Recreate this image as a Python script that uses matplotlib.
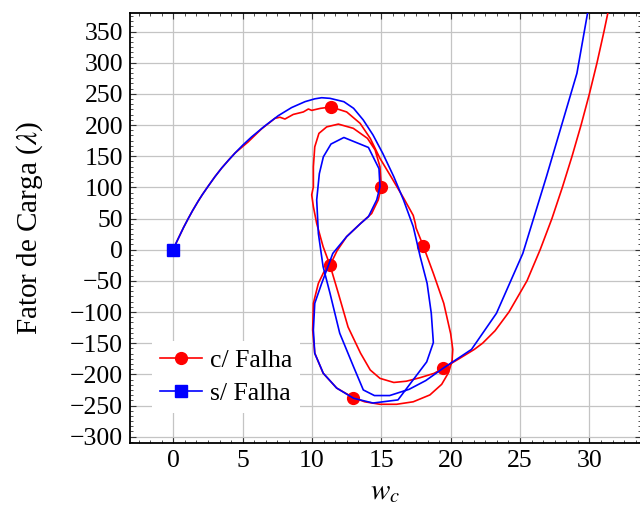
import matplotlib
matplotlib.use("Agg")
import matplotlib.pyplot as plt
from matplotlib.ticker import MultipleLocator

plt.rcParams["font.family"] = ["Liberation Serif", "DejaVu Serif"]
plt.rcParams["mathtext.fontset"] = "stix"

# Equilibrium path without failure (s/ Falha)
w_sem = [0, 0.2, 0.48, 0.75, 1.08, 1.4, 1.8, 2.1, 2.52, 3.0, 3.49, 4.0, 4.45, 5.0, 5.65,
         6.6, 7.57, 8.53, 9.5, 10.2,
         10.7, 11.3, 12.3, 13.0, 13.7, 14.4, 15.1, 15.9, 16.6, 17.3, 17.8, 18.3, 18.6,
         18.75, 18.27, 16.2, 14.4, 13.0, 11.78, 10.82, 10.2, 10.1, 10.2, 10.7, 11.06,
         11.5, 12.5, 13.5, 14.07, 14.67, 14.9, 14.83, 14.07, 12.3, 11.37, 10.82, 10.53,
         10.34, 10.46, 10.8, 11.3, 12.0, 13.0, 13.7, 14.5, 15.6, 17.0, 18.2, 19.47,
         21.5, 23.3, 25.2, 26.9, 29.1, 29.95]
lam_sem = [0, 10.5, 23.5, 36, 50, 63, 78, 88.5, 102, 117, 131, 144, 155, 167.5, 181,
           198.5, 215, 228, 237.5, 242,
           243.8, 242.8, 237.4, 226.8, 208, 184, 154.6, 117, 79.7, 37, -11, -54, -102,
           -149, -180, -241, -246, -238.4, -222, -198.4, -166.3, -128.8, -86, -54, -32.6,
           -6, 21, 42, 53, 80, 101, 130, 164, 180, 169.5, 149, 122,
           80, 26, -27, -70, -134, -188, -225, -234, -234, -224, -210, -190,
           -160, -102, -6, 117, 283, 390]

# Equilibrium path with failure (c/ Falha)
w_com = [0, 0.2, 0.48, 0.75, 1.08, 1.4, 1.8, 2.1, 2.52, 3.0, 3.49, 4.0, 4.45, 5.4,
         6.37, 7.33, 7.69, 8.05, 8.65, 9.38,
         9.74, 9.98, 10.6, 11.37, 12.5, 13.47, 14.2, 14.9, 15.7, 16.6, 17.3, 17.45, 17.5,
         18.03, 18.75, 19.5, 20.0, 20.15, 20.1, 19.85, 19.35, 18.5, 17.3, 16.1, 14.9, 13.8,
         12.98, 11.78, 10.8, 10.2, 10.05, 10.1, 10.46, 10.85, 11.3, 11.8, 12.5, 13.5,
         14.3, 14.78, 15.0, 14.9, 14.55, 14.0, 12.98, 11.9, 11.06, 10.5, 10.2, 10.1,
         10.1, 9.98, 10.1, 10.34, 10.8, 11.3, 11.9, 12.6, 13.5, 14.2, 14.9, 15.9, 16.8,
         17.8, 18.8, 19.47, 20.6, 21.7, 22.3, 23.2, 24.2, 25.5, 26.45, 27.3, 28.05,
         28.75, 29.4, 30.0, 30.55, 31.05, 31.38]
lam_com = [0, 10.5, 23.5, 36, 50, 63, 78, 88.5, 102, 117, 131, 144, 155, 173,
           194, 210.7, 212.5, 209.6, 217, 221,
           225.7, 223.5, 226.7, 229, 221, 202.7, 178.6, 146.6, 117, 83, 55, 42, 35,
           5.5, -38, -86, -135, -160, -178, -197, -216, -233, -244, -248, -248, -244,
           -237.4, -222, -198, -166, -129, -86, -54, -36, -25, -2, 21, 42,
           58, 80, 101, 133, 160, 178.6, 194.7, 201.5, 197, 186.6, 165, 133,
           101, 88, 69, 42, 5, -25, -70, -124, -166, -193, -206.4, -213, -211,
           -205.3, -198.4, -190, -175, -160, -150, -130, -100, -50, 0, 50, 100,
           150, 200, 250, 300, 350, 385]
marcas_com = [23, 33, 46, 54, 60, 85]

fig = plt.figure(figsize=(6.4, 5.12), dpi=100)
ax = fig.add_axes([130 / 640, 1 - 443.3 / 512, 511 / 640, 430.6 / 512])

ax.plot(w_com, lam_com, color="red", lw=1.2, marker="o", ms=8.5,
        markevery=marcas_com, label="c/ Falha", zorder=3)
ax.plot(w_sem, lam_sem, color="blue", lw=1.2, marker="s", ms=8.5,
        markevery=[0], label="s/ Falha", zorder=3)

ax.set_xlim(-3.12, 33.72)
ax.set_ylim(-310.6, 380.2)
ax.xaxis.set_major_locator(MultipleLocator(5))
ax.xaxis.set_minor_locator(MultipleLocator(5 / 6))
ax.yaxis.set_major_locator(MultipleLocator(50))
ax.yaxis.set_minor_locator(MultipleLocator(50 / 6))

ax.grid(True, which="major", color="#c4c4c4", lw=0.9, zorder=0)
ax.set_axisbelow(True)
for s in ax.spines.values():
    s.set_linewidth(1.3)
ax.tick_params(which="both", direction="in", top=True, right=True,
               labelsize=18.5, color="#333333")
ax.tick_params(which="major", length=4.2, width=0.8, pad=5)
ax.tick_params(which="minor", length=2.4, width=0.6)

ax.set_xlabel(r"$w_c$", fontsize=21, labelpad=5)
ax.set_ylabel(r"Fator de Carga ($\lambda$)", fontsize=21, labelpad=18)

leg = ax.legend(loc="lower left", bbox_to_anchor=(0.043, 0.07), fontsize=18.5,
                frameon=True, fancybox=False, edgecolor="none", framealpha=1,
                handlelength=1.65, handletextpad=0.3, labelspacing=0.42,
                borderpad=0.3, borderaxespad=0)

fig.savefig("out.png", dpi=100)
